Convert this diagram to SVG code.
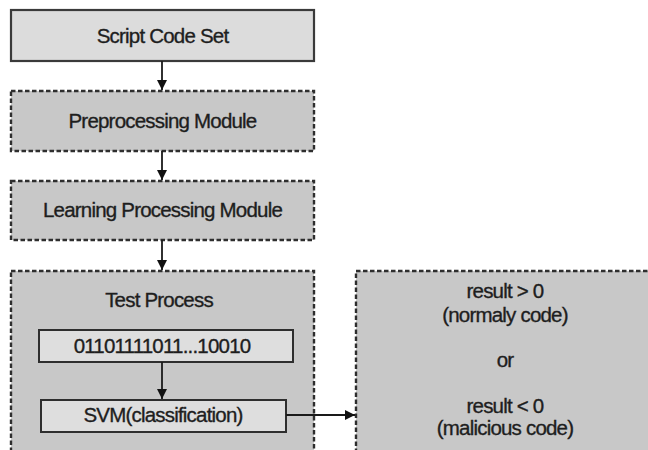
<svg xmlns="http://www.w3.org/2000/svg" width="648" height="450" viewBox="0 0 648 450">
<defs>
<style>
.solid{fill:#dcdcdc;stroke:#3a3a3a;stroke-width:2.2}
.inner{fill:#dedede;stroke:#2e2e2e;stroke-width:2}
.dash{fill:#c8c8c8;stroke:#2e2e2e;stroke-width:2.4;stroke-dasharray:4.5 2.5}
.t{font-family:"Liberation Sans",Arial,sans-serif;font-size:20.5px;fill:#1e1e1e;stroke:#1e1e1e;stroke-width:0.35;text-anchor:middle;letter-spacing:-0.8px}
.c{stroke:#1a1a1a;stroke-width:1.8;fill:none}
</style>
<marker id="ah" markerWidth="12" markerHeight="12" refX="10" refY="5.5" orient="auto" markerUnits="userSpaceOnUse">
<path d="M0,0.5 L10,5.5 L0,10.5 Z" fill="#111"/>
</marker>
</defs>
<rect width="648" height="450" fill="#fff"/>
<g id="script-code-set">
<rect class="solid" x="11" y="10" width="303" height="51"/>
<text class="t" x="162.5" y="43">Script Code Set</text>
</g>
<g id="preprocessing">
<rect class="dash" x="11" y="91" width="303" height="60"/>
<text class="t" x="162.5" y="128">Preprocessing Module</text>
</g>
<g id="learning">
<rect class="dash" x="11" y="181" width="303" height="59"/>
<text class="t" x="162.5" y="217">Learning  Processing Module</text>
</g>
<g id="test-process">
<rect class="dash" x="11" y="271" width="303" height="190"/>
<text class="t" x="159" y="307">Test Process</text>
</g>
<g id="binary">
<rect class="inner" x="39" y="330" width="254" height="32"/>
<text class="t" x="162" y="353">01101111011...10010</text>
</g>
<g id="svm">
<rect class="inner" x="41" y="400" width="245" height="32"/>
<text class="t" x="163" y="422">SVM(classification)</text>
</g>
<g id="result">
<rect class="dash" x="356" y="271" width="300" height="190"/>
<text class="t" x="505" y="298">result &gt; 0</text>
<text class="t" x="505" y="322">(normaly code)</text>
<text class="t" x="505" y="367">or</text>
<text class="t" x="505" y="413">result &lt; 0</text>
<text class="t" x="505" y="435">(malicious code)</text>
</g>
<g id="connectors">
<line class="c" x1="162" y1="61" x2="162" y2="90" marker-end="url(#ah)"/>
<line class="c" x1="162" y1="151" x2="162" y2="180" marker-end="url(#ah)"/>
<line class="c" x1="162" y1="240" x2="162" y2="270" marker-end="url(#ah)"/>
<line class="c" x1="162" y1="362" x2="162" y2="399" marker-end="url(#ah)"/>
<line class="c" x1="286" y1="415" x2="355" y2="415" marker-end="url(#ah)"/>
</g>
</svg>
